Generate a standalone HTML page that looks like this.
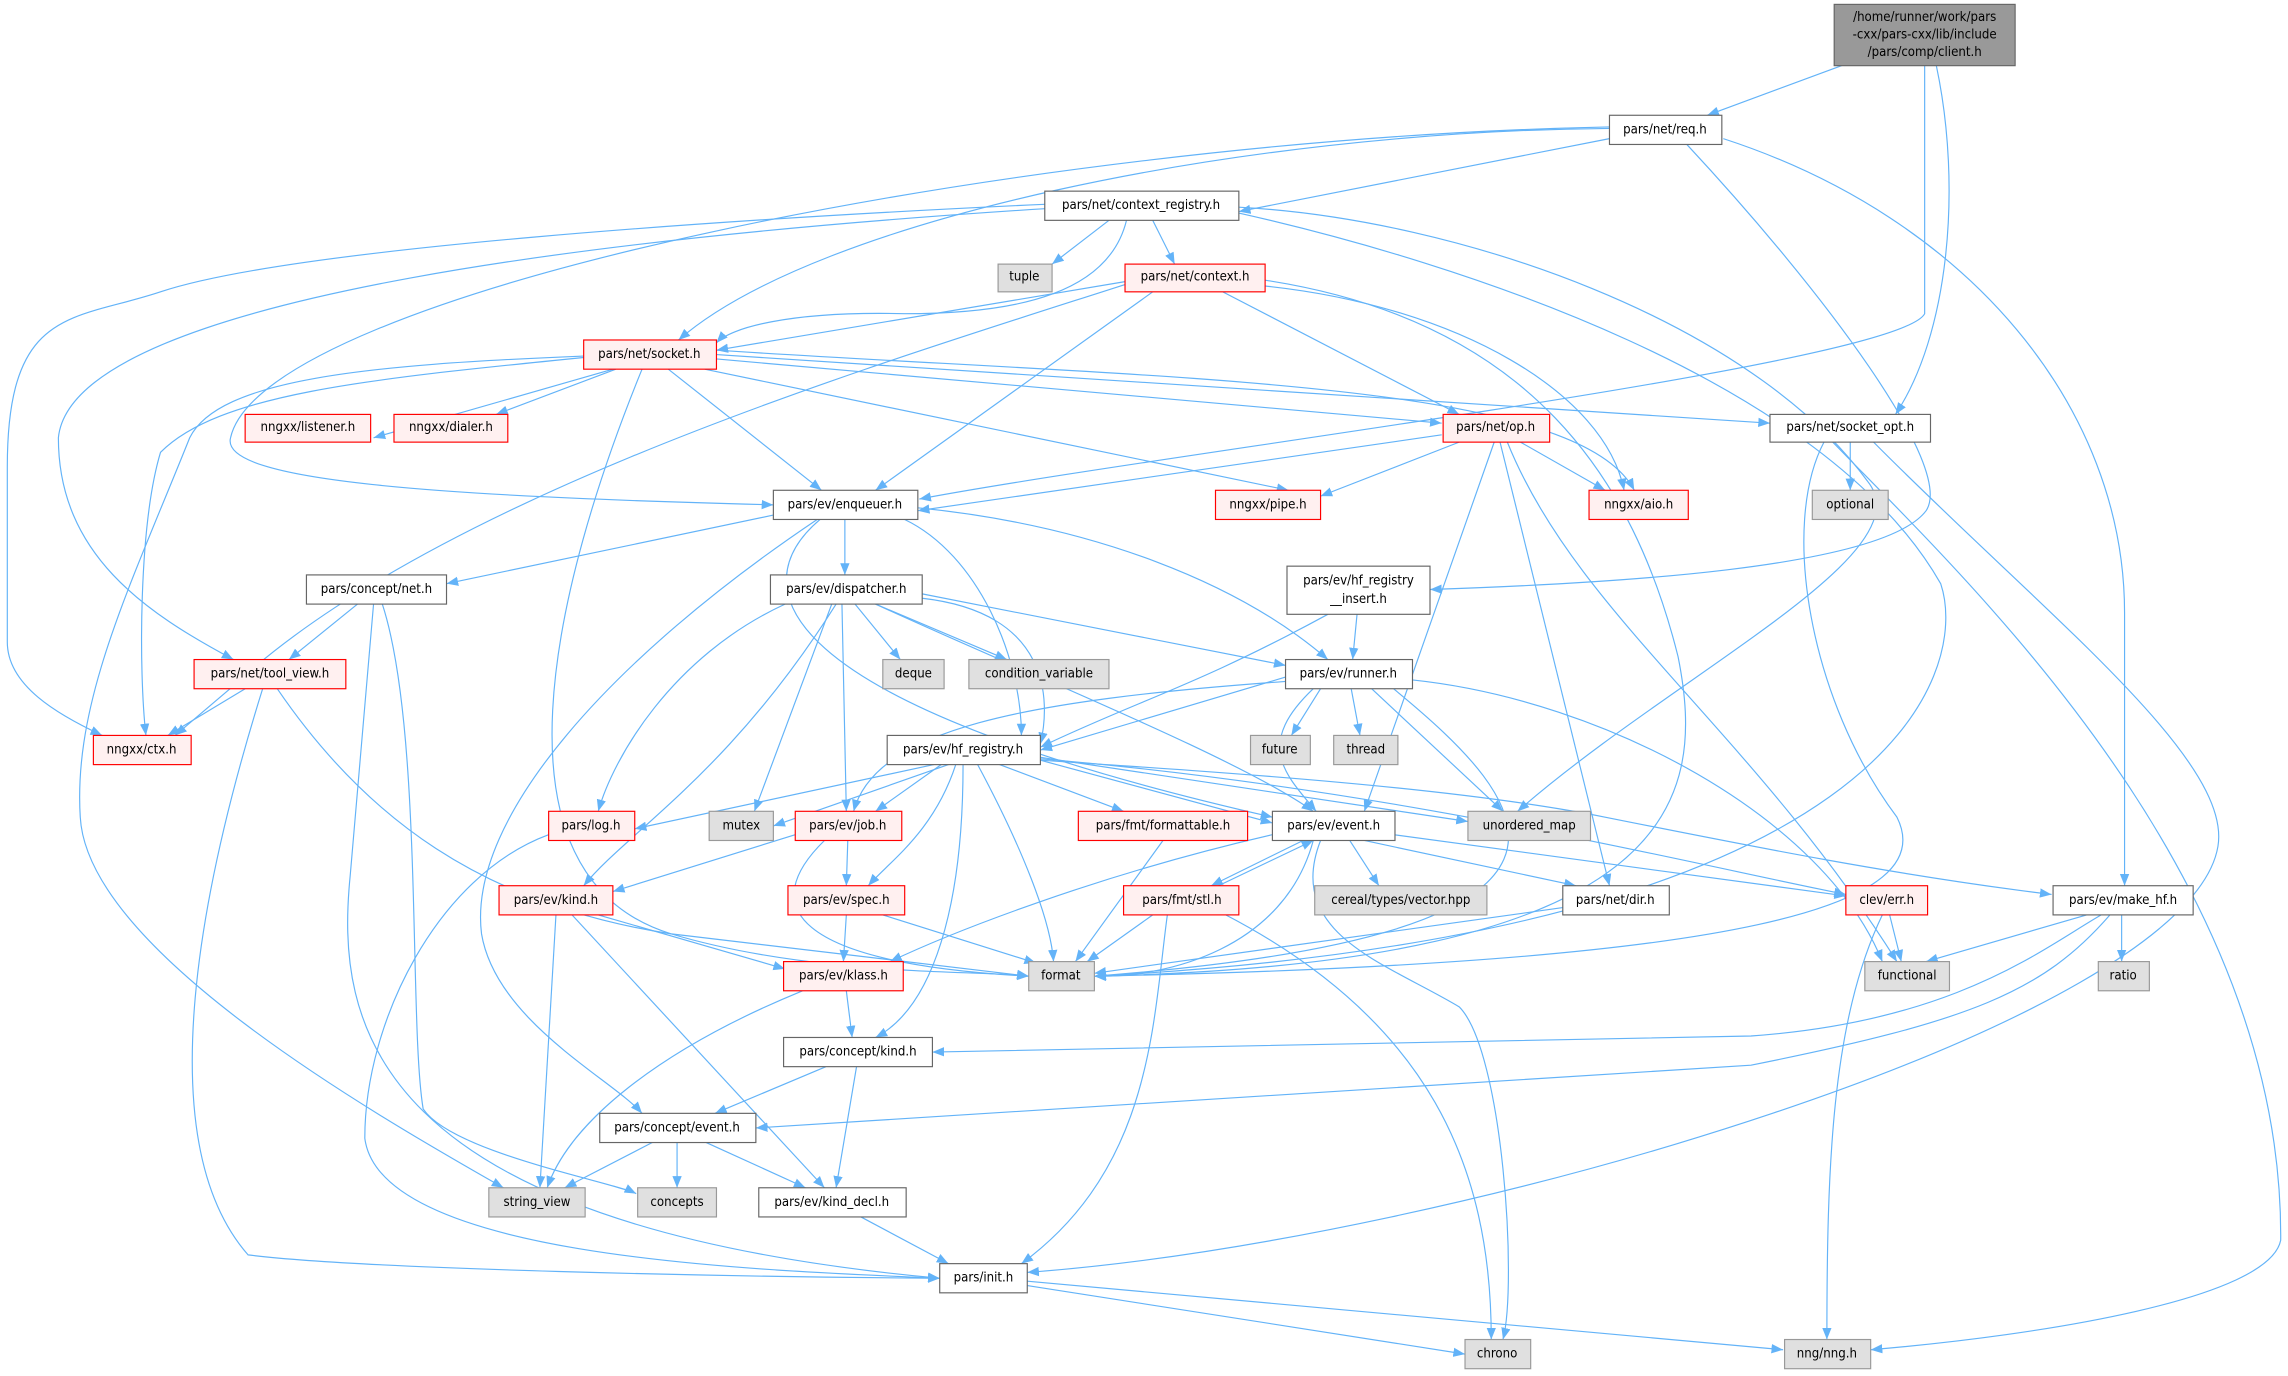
<!DOCTYPE html>
<html><head><meta charset="utf-8"><style>
html,body{margin:0;padding:0;background:#fff}
svg{display:block}
.e{fill:none;stroke:#63b3f8;stroke-width:0.8}
.n rect{stroke-width:0.8}
.w{fill:#fff;stroke:#666}
.r{fill:#fff0f0;stroke:#f00}
.g{fill:#e0e0e0;stroke:#999}
text{font-family:"DejaVu Sans Condensed","DejaVu Sans","Liberation Sans",sans-serif;font-size:9px;fill:#000;text-anchor:middle;dominant-baseline:central}
</style></head><body>
<svg width="2288" height="1376" viewBox="0 0 1568 943" xmlns="http://www.w3.org/2000/svg">
<defs><marker id="a" markerUnits="userSpaceOnUse" markerWidth="8" markerHeight="8" viewBox="0 0 10 10" refX="10" refY="5" orient="auto"><path d="M0,1 L10,5 L0,9 z" fill="#63b3f8"/></marker></defs>
<g class="e" marker-end="url(#a)">
<path d="M1262 45 L1170 79"/>
<path d="M1327 45 C1345 130 1335 230 1299 284"/>
<path d="M1319 45 L1319 215 C1300 250 800 310 630 342"/>
<path d="M1103 95 L849 145"/>
<path d="M1103 88 C850 90 560 150 465 233"/>
<path d="M1103 87 C700 95 180 200 158 300 C150 330 300 340 530 346"/>
<path d="M1156 99 C1250 200 1340 320 1320 350 C1290 390 1100 400 980 404"/>
<path d="M1181 95 C1350 150 1456 280 1456 420 L1456 607"/>
<path d="M760 151 L721 181"/>
<path d="M790 151 L805 181"/>
<path d="M772 151 C760 200 700 215 620 215 C540 213 500 225 491 235"/>
<path d="M716 140 C500 150 200 170 110 200 C50 220 5 210 5 320 L5 440 C5 470 40 490 70 504"/>
<path d="M716 143 C450 160 50 200 40 300 C40 380 100 420 160 452"/>
<path d="M849 142 C1000 150 1200 220 1280 330 C1320 380 1150 460 1040 556"/>
<path d="M849 146 C1000 180 1250 260 1330 400 C1350 460 1300 640 750 669"/>
<path d="M771 193 L491 240"/>
<path d="M771 195 C600 250 300 340 160 470 L120 504"/>
<path d="M790 200 L600 336"/>
<path d="M838 200 L1000 284"/>
<path d="M867 196 C1000 210 1100 270 1113 336"/>
<path d="M867 192 C1050 220 1120 330 1150 450 C1170 550 1150 660 750 669"/>
<path d="M420 253 L256 300"/>
<path d="M422 253 L340 284"/>
<path d="M458 253 L563 336"/>
<path d="M483 253 L883 336"/>
<path d="M491 246 L988 290"/>
<path d="M491 240 C800 260 1080 260 1120 336"/>
<path d="M491 243 L1213 290"/>
<path d="M400 245 C250 260 150 270 110 310 C95 360 95 460 100 504"/>
<path d="M400 244 C250 250 150 260 130 300 C90 400 50 480 55 560 C60 650 250 760 345 814"/>
<path d="M440 253 C380 400 330 600 460 640 C560 670 680 665 705 669"/>
<path d="M988 298 L629 350"/>
<path d="M1000 303 L905 340"/>
<path d="M1042 303 L1100 336"/>
<path d="M1024 303 L935 556"/>
<path d="M1028 303 L1103 607"/>
<path d="M1033 303 C1080 420 1200 500 1300 659"/>
<path d="M1268 303 L1268 336"/>
<path d="M1284 303 C1400 420 1530 520 1520 580 C1500 700 1000 850 704 872"/>
<path d="M1256 303 C1350 400 1565 600 1563 850 C1555 890 1400 915 1282 925"/>
<path d="M1250 303 C1220 360 1240 480 1300 560 C1330 620 1200 660 750 669"/>
<path d="M530 353 L306 400"/>
<path d="M579 356 L579 394"/>
<path d="M629 348 C750 360 850 400 910 452"/>
<path d="M620 356 C670 380 700 450 700 504"/>
<path d="M562 356 C510 400 520 480 872 560"/>
<path d="M560 356 C420 450 320 560 330 640 C340 700 420 740 440 763"/>
<path d="M245 414 L198 452"/>
<path d="M256 414 L240 600 C230 700 250 840 644 876"/>
<path d="M262 414 C290 500 280 700 290 760 C310 790 420 810 436 818"/>
<path d="M586 414 L617 452"/>
<path d="M600 414 L690 452"/>
<path d="M632 407 L881 456"/>
<path d="M632 410 C720 420 720 480 713 510"/>
<path d="M600 414 C700 460 850 520 900 556"/>
<path d="M538 414 C460 450 420 520 410 556"/>
<path d="M570 414 L517 556"/>
<path d="M577 414 L580 556"/>
<path d="M573 414 C500 530 430 570 400 607"/>
<path d="M168 472 L115 504"/>
<path d="M190 472 C250 560 330 620 460 640 L705 669"/>
<path d="M180 472 C140 600 100 780 170 860 C250 870 500 875 644 876"/>
<path d="M930 421 L927 452"/>
<path d="M910 421 C820 470 780 480 713 512"/>
<path d="M905 472 L885 504"/>
<path d="M926 472 L932 504"/>
<path d="M940 472 L1030 556"/>
<path d="M881 464 L713 514"/>
<path d="M900 472 C860 510 880 530 902 556"/>
<path d="M881 467 C700 480 600 500 585 556"/>
<path d="M955 472 C1050 550 1130 640 750 669"/>
<path d="M968 466 C1100 480 1250 560 1290 659"/>
<path d="M640 524 L435 568"/>
<path d="M650 524 L530 566"/>
<path d="M645 524 L600 556"/>
<path d="M685 524 L770 556"/>
<path d="M713 519 L1006 563"/>
<path d="M670 524 C700 580 720 630 722 659"/>
<path d="M655 524 C640 570 610 590 595 607"/>
<path d="M660 524 C660 620 640 690 600 711"/>
<path d="M713 521 L872 564"/>
<path d="M713 521 C850 530 1000 540 1100 560 C1200 580 1300 600 1406 613"/>
<path d="M713 520 C950 540 1150 590 1265 613"/>
<path d="M376 572 C300 600 250 700 250 780 C260 860 500 870 644 876"/>
<path d="M545 572 L420 611"/>
<path d="M581 576 L580 607"/>
<path d="M565 576 C520 620 540 660 705 669"/>
<path d="M925 576 L945 607"/>
<path d="M935 576 L1080 607"/>
<path d="M893 576 L830 607"/>
<path d="M835 607 L900 576"/>
<path d="M872 572 C750 600 650 640 610 659"/>
<path d="M955 572 L1265 614"/>
<path d="M900 576 C880 650 800 670 750 669"/>
<path d="M905 576 C880 640 950 660 1000 690 C1030 720 1040 880 1030 918"/>
<path d="M790 627 L745 659"/>
<path d="M840 627 C980 700 1022 800 1022 918"/>
<path d="M800 627 C790 700 790 800 700 866"/>
<path d="M797 576 L737 659"/>
<path d="M410 627 L538 664"/>
<path d="M381 627 L370 814"/>
<path d="M392 627 L565 814"/>
<path d="M580 627 L578 659"/>
<path d="M605 627 L710 660"/>
<path d="M1071 622 L750 667"/>
<path d="M1295 627 L1303 659"/>
<path d="M1290 627 C1255 700 1252 800 1252 918"/>
<path d="M1430 627 L1320 659"/>
<path d="M1454 627 L1454 659"/>
<path d="M1440 627 C1400 650 1340 700 1200 710 L639 721"/>
<path d="M1446 627 C1400 680 1350 700 1200 730 L518 773"/>
<path d="M580 679 L584 711"/>
<path d="M550 679 C450 720 390 770 375 814"/>
<path d="M566 731 L490 763"/>
<path d="M587 731 L573 814"/>
<path d="M447 783 L387 814"/>
<path d="M464 783 L464 814"/>
<path d="M484 783 L552 814"/>
<path d="M590 834 L650 866"/>
<path d="M704 881 L1004 928"/>
<path d="M704 878 L1222 925"/>
</g>
<g class="n">
<rect x="1257" y="3" width="124" height="42" fill="#999" stroke="#666"/>
<text x="1319" y="12">/home/runner/work/pars</text><text x="1319" y="24">-cxx/pars-cxx/lib/include</text><text x="1319" y="36">/pars/comp/client.h</text>
<rect class="w" x="1103" y="79" width="77" height="20"/><text x="1141" y="89">pars/net/req.h</text>
<rect class="w" x="716" y="131" width="133" height="20"/><text x="782" y="141">pars/net/context_registry.h</text>
<rect class="g" x="684" y="181" width="37" height="19"/><text x="702" y="190">tuple</text>
<rect class="r" x="771" y="181" width="96" height="19"/><text x="819" y="190">pars/net/context.h</text>
<rect class="r" x="400" y="233" width="91" height="20"/><text x="445" y="243">pars/net/socket.h</text>
<rect class="r" x="168" y="284" width="86" height="19"/><text x="211" y="293">nngxx/listener.h</text>
<rect class="r" x="270" y="284" width="78" height="19"/><text x="309" y="293">nngxx/dialer.h</text>
<rect class="r" x="989" y="284" width="73" height="19"/><text x="1025" y="293">pars/net/op.h</text>
<rect class="w" x="1213" y="284" width="110" height="19"/><text x="1268" y="293">pars/net/socket_opt.h</text>
<rect class="g" x="1242" y="336" width="52" height="20"/><text x="1268" y="346">optional</text>
<rect class="w" x="530" y="336" width="99" height="20"/><text x="579" y="346">pars/ev/enqueuer.h</text>
<rect class="r" x="833" y="336" width="72" height="20"/><text x="869" y="346">nngxx/pipe.h</text>
<rect class="r" x="1089" y="336" width="68" height="20"/><text x="1123" y="346">nngxx/aio.h</text>
<rect class="w" x="882" y="388" width="98" height="33"/><text x="931" y="398">pars/ev/hf_registry</text><text x="931" y="411">__insert.h</text>
<rect class="w" x="210" y="394" width="96" height="20"/><text x="258" y="404">pars/concept/net.h</text>
<rect class="w" x="528" y="394" width="104" height="20"/><text x="580" y="404">pars/ev/dispatcher.h</text>
<rect class="r" x="133" y="452" width="104" height="20"/><text x="185" y="462">pars/net/tool_view.h</text>
<rect class="g" x="605" y="452" width="42" height="20"/><text x="626" y="462">deque</text>
<rect class="g" x="664" y="452" width="96" height="20"/><text x="712" y="462">condition_variable</text>
<rect class="w" x="881" y="452" width="87" height="20"/><text x="924" y="462">pars/ev/runner.h</text>
<rect class="r" x="64" y="504" width="67" height="20"/><text x="97" y="514">nngxx/ctx.h</text>
<rect class="g" x="857" y="504" width="41" height="20"/><text x="877" y="514">future</text>
<rect class="g" x="914" y="504" width="44" height="20"/><text x="936" y="514">thread</text>
<rect class="w" x="608" y="504" width="105" height="20"/><text x="660" y="514">pars/ev/hf_registry.h</text>
<rect class="r" x="376" y="556" width="59" height="20"/><text x="405" y="566">pars/log.h</text>
<rect class="g" x="486" y="556" width="44" height="20"/><text x="508" y="566">mutex</text>
<rect class="r" x="545" y="556" width="73" height="20"/><text x="581" y="566">pars/ev/job.h</text>
<rect class="r" x="739" y="556" width="116" height="20"/><text x="797" y="566">pars/fmt/formattable.h</text>
<rect class="w" x="872" y="556" width="84" height="20"/><text x="914" y="566">pars/ev/event.h</text>
<rect class="g" x="1006" y="556" width="84" height="20"/><text x="1048" y="566">unordered_map</text>
<rect class="r" x="342" y="607" width="78" height="20"/><text x="381" y="617">pars/ev/kind.h</text>
<rect class="r" x="540" y="607" width="80" height="20"/><text x="580" y="617">pars/ev/spec.h</text>
<rect class="r" x="770" y="607" width="79" height="20"/><text x="810" y="617">pars/fmt/stl.h</text>
<rect class="g" x="901" y="607" width="118" height="20"/><text x="960" y="617">cereal/types/vector.hpp</text>
<rect class="w" x="1071" y="607" width="73" height="20"/><text x="1107" y="617">pars/net/dir.h</text>
<rect class="r" x="1265" y="607" width="56" height="20"/><text x="1293" y="617">clev/err.h</text>
<rect class="w" x="1407" y="607" width="96" height="20"/><text x="1455" y="617">pars/ev/make_hf.h</text>
<rect class="r" x="537" y="659" width="82" height="20"/><text x="578" y="669">pars/ev/klass.h</text>
<rect class="g" x="705" y="659" width="45" height="20"/><text x="727" y="669">format</text>
<rect class="g" x="1278" y="659" width="58" height="20"/><text x="1307" y="669">functional</text>
<rect class="g" x="1438" y="659" width="35" height="20"/><text x="1455" y="669">ratio</text>
<rect class="w" x="537" y="711" width="102" height="20"/><text x="588" y="721">pars/concept/kind.h</text>
<rect class="w" x="411" y="763" width="107" height="20"/><text x="464" y="773">pars/concept/event.h</text>
<rect class="g" x="335" y="814" width="66" height="20"/><text x="368" y="824">string_view</text>
<rect class="g" x="437" y="814" width="54" height="20"/><text x="464" y="824">concepts</text>
<rect class="w" x="520" y="814" width="101" height="20"/><text x="570" y="824">pars/ev/kind_decl.h</text>
<rect class="w" x="644" y="866" width="60" height="20"/><text x="674" y="876">pars/init.h</text>
<rect class="g" x="1004" y="918" width="45" height="20"/><text x="1026" y="928">chrono</text>
<rect class="g" x="1223" y="918" width="59" height="20"/><text x="1252" y="928">nng/nng.h</text>
</g>
</svg>
</body></html>
